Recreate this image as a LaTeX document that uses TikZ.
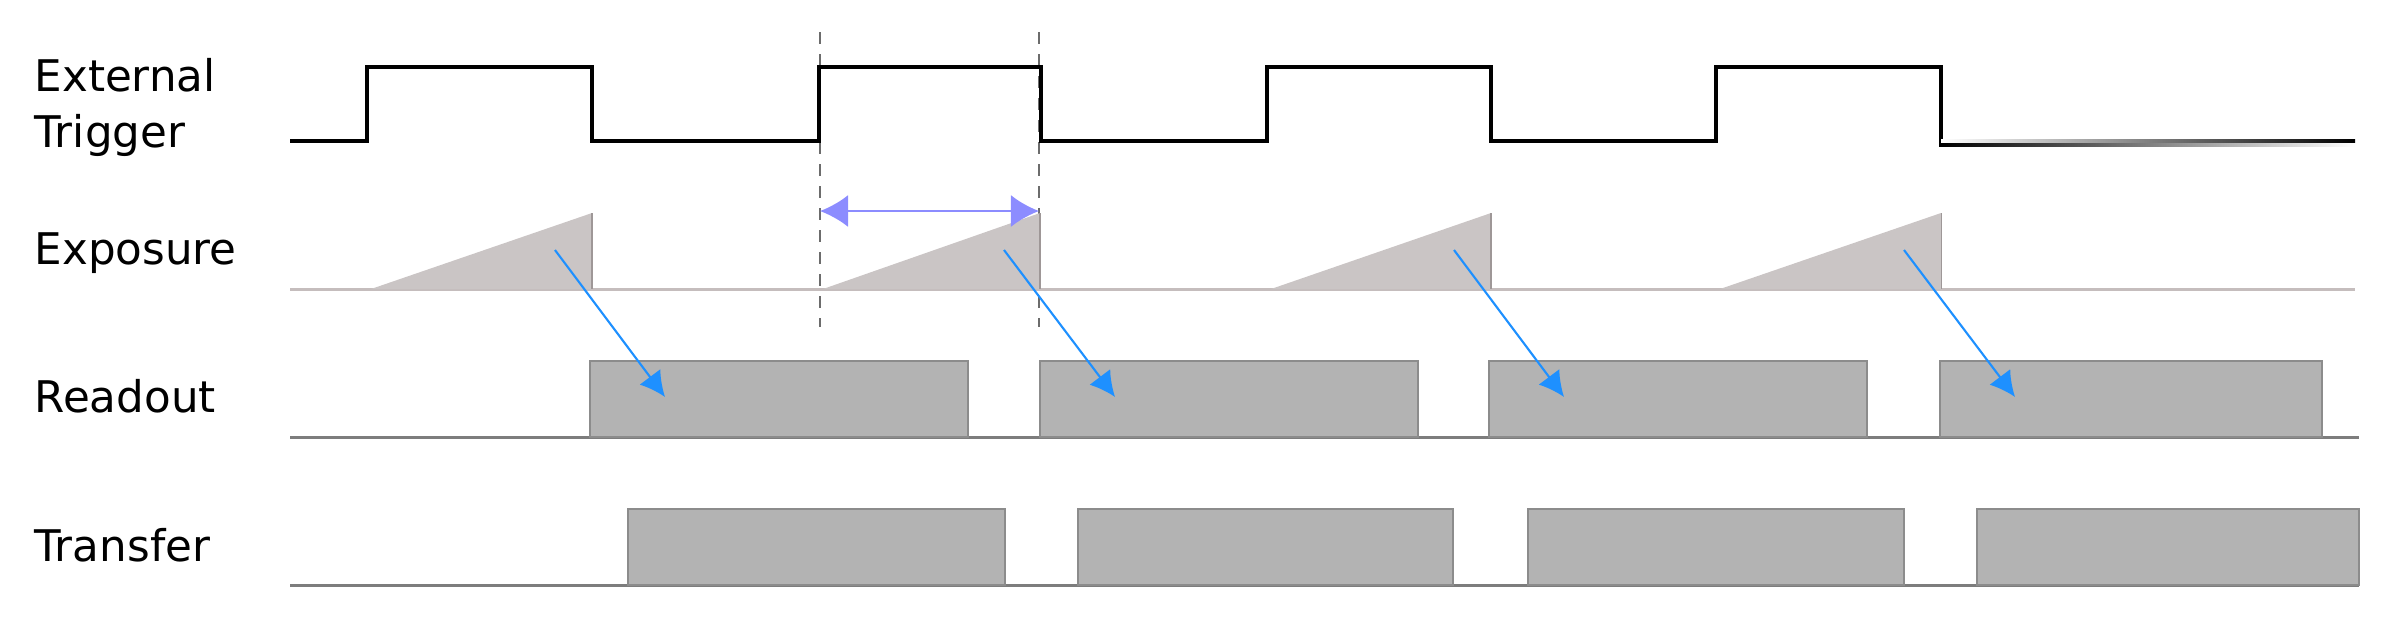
\documentclass[tikz,border=0pt]{standalone}
\usepackage{fontspec}
\setmainfont{DejaVu Sans}
\usepackage{tikz}
\usetikzlibrary{arrows.meta,calc}
\definecolor{expgray}{RGB}{197,189,189}
\definecolor{rampgray}{RGB}{202,197,197}
\definecolor{boxgray}{RGB}{179,179,179}
\definecolor{edgegray}{RGB}{140,140,140}
\definecolor{basegray}{RGB}{125,125,125}
\definecolor{spanblue}{RGB}{140,140,255}
\definecolor{flowblue}{RGB}{30,144,255}
\tikzset{
    lbl/.style={anchor=base west, inner sep=0pt, font=\fontsize{12.4}{15}\selectfont},
    slot/.style={fill=boxgray, draw=edgegray, line width=0.45pt, inner sep=0pt, outer sep=0pt, minimum height=0.76cm, anchor=south west},
    flow/.style={flowblue, line width=0.6pt, -{Latex[length=0.25cm,width=0.26cm]}},
    span/.style={spanblue, line width=0.7pt, {Latex[length=0.28cm,width=0.32cm]}-{Latex[length=0.28cm,width=0.32cm]}},
    guide/.style={gray!85!black, line width=0.6pt, dash pattern=on 0.12cm off 0.1cm}
}

\begin{document}
\begin{tikzpicture}[x=0.01cm, y=-0.01cm]
\useasboundingbox (0,0) rectangle (2394,626);

% labels
\node[lbl] (lext) at (34,91) {External};
\node[lbl] (ltrig) at (34,147) {Trigger};
\node[lbl] (lexp) at (34,264) {Exposure};
\node[lbl] (lread) at (34,412) {Readout};
\node[lbl] (ltrans) at (34,561) {Transfer};

% exposure window
\draw[guide] (820,32) -- (820,327);
\draw[guide] (1039,32) -- (1039,327);

% external trigger
\draw[line width=0.95pt] (290,141) -- (367,141) -- (367,67) -- (592,67) -- (592,141) -- (819,141) -- (819,67) -- (1041,67) -- (1041,141) -- (1267,141) -- (1267,67) -- (1491,67) -- (1491,141) -- (1716,141) -- (1716,67) -- (1941,67) -- (1941,146.5);
\shade[left color=white, right color=black] (1941,139.3) rectangle (2355,142.7);
\shade[left color=black, right color=white] (1943,143.3) rectangle (2355,146.7);

% exposure ramps
\draw[expgray, line width=0.85pt] (290,289) -- (2355,289);
\fill[rampgray] (371,289) -- (592,213) -- (592,289) -- cycle;
\fill[rampgray] (823,289) -- (1040,213) -- (1040,289) -- cycle;
\fill[rampgray] (1271,289) -- (1491,213) -- (1491,289) -- cycle;
\fill[rampgray] (1720,289) -- (1941,213) -- (1941,289) -- cycle;
\draw[expgray!80!black, line width=0.3pt] (592,213) -- (592,289) (1040,213) -- (1040,289) (1491,213) -- (1491,289) (1941,213) -- (1941,289);

% readout
\draw[basegray, line width=0.85pt] (290,437) -- (2359,437);
\node[slot, minimum width=3.78cm] (r1) at (590,437) {};
\node[slot, minimum width=3.78cm] (r2) at (1040,437) {};
\node[slot, minimum width=3.78cm] (r3) at (1489,437) {};
\node[slot, minimum width=3.82cm] (r4) at (1940,437) {};

% transfer
\draw[basegray, line width=0.85pt] (290,585) -- (2359,585);
\node[slot, minimum width=3.77cm] (t1) at (628,585) {};
\node[slot, minimum width=3.75cm] (t2) at (1078,585) {};
\node[slot, minimum width=3.76cm] (t3) at (1528,585) {};
\node[slot, minimum width=3.82cm] (t4) at (1977,585) {};

% exposure time
\coordinate (w1) at (820,211);
\coordinate (w2) at (1039,211);
\draw[span] (w1) -- (w2);

% exposure to readout
\coordinate (x1) at (555,250);
\coordinate (x2) at (1004,250);
\coordinate (x3) at (1454,250);
\coordinate (x4) at (1904,250);
\draw[flow] (x1) -- ([xshift=0.75cm, yshift=0.02cm]r1.west);
\draw[flow] (x2) -- ([xshift=0.75cm, yshift=0.02cm]r2.west);
\draw[flow] (x3) -- ([xshift=0.75cm, yshift=0.02cm]r3.west);
\draw[flow] (x4) -- ([xshift=0.75cm, yshift=0.02cm]r4.west);
\end{tikzpicture}
\end{document}
